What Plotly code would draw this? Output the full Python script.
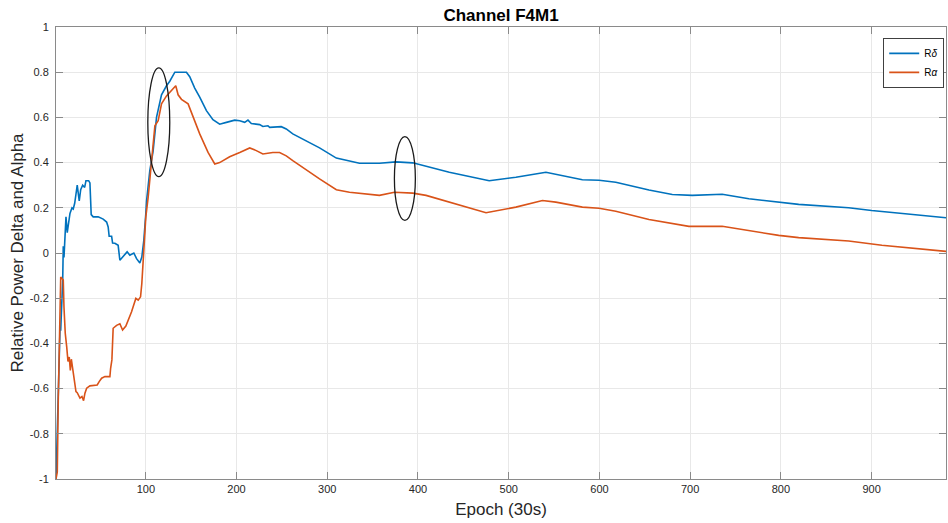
import plotly.graph_objects as go

# ---- data ----
delta_epoch = [1, 3.5, 5.4, 6.2, 8.4, 9, 9.8, 12, 13.4, 16.4, 18.6, 20, 21.6, 23, 24.4, 26.6, 28.2,
               30.4, 32.6, 34, 37, 38.4, 39.8, 42, 47.5, 53, 56.8, 58.5, 59.6, 62.3, 63.4, 65.9,
               69.5, 71.4, 75, 79.4, 82.4, 86.8, 89.8, 93.4, 95.6, 97.8, 100, 100.8, 104.4, 108,
               111.8, 117.3, 122.8, 126.4, 132, 137.4, 141, 144.8, 148.4, 153.9, 159.4, 166.8,
               174, 181.4, 188.8, 198, 203.5, 209, 212.6, 216.3, 225.5, 229, 234.6, 236.5, 249.3,
               254.8, 262, 291.5, 310, 324.5, 335.5, 357.5, 375.9, 394.2, 405.2, 434.5, 478.5,
               507.9, 541, 559.2, 581.2, 599.6, 618, 654.6, 680.3, 702.3, 735.3, 764.7, 794,
               819.6, 874.7, 900, 937, 982]
delta_value = [-1.0, -0.55, -0.34, -0.34, -0.12, 0.03, -0.02, 0.16, 0.09, 0.175, 0.2, 0.195, 0.22,
               0.26, 0.30, 0.23, 0.28, 0.30, 0.29, 0.32, 0.32, 0.31, 0.17, 0.16, 0.16, 0.15, 0.137,
               0.115, 0.074, 0.074, 0.044, 0.043, 0.034, -0.032, -0.015, 0.005, -0.01, 0.0, -0.025,
               -0.044, -0.018, 0.056, 0.175, 0.23, 0.365, 0.45, 0.60, 0.70, 0.74, 0.76, 0.80, 0.80,
               0.80, 0.80, 0.78, 0.73, 0.69, 0.63, 0.59, 0.57, 0.578, 0.588, 0.585, 0.578, 0.588,
               0.573, 0.568, 0.56, 0.563, 0.556, 0.559, 0.549, 0.527, 0.465, 0.42, 0.406, 0.397,
               0.397, 0.403, 0.399, 0.387, 0.357, 0.32, 0.335, 0.357, 0.343, 0.324, 0.322, 0.313,
               0.279, 0.259, 0.255, 0.26, 0.24, 0.225, 0.215, 0.2, 0.188, 0.174, 0.156]

alpha_epoch = [1, 2.4, 3.5, 4.6, 6.2, 7.6, 9, 9.8, 11.2, 12.8, 14.2, 15.6, 16.8, 17.9, 19, 20, 21.6,
               23, 24.4, 26, 27.4, 29.6, 31.4, 32.9, 34.8, 38.4, 42, 46.4, 48.6, 51.3, 54.9, 57.9,
               60.4, 61.2, 62.6, 64, 67.8, 71.4, 74.4, 78, 80.6, 84.3, 87.2, 89, 91.6, 94.2, 95.6,
               97, 100, 102.6, 106.3, 110, 113.6, 117.3, 122.8, 128.3, 133, 135.6, 139.3, 146.6,
               150.3, 159.4, 168.6, 176, 181.4, 192.4, 203.5, 214.5, 221.8, 229, 240, 247.5, 254.8,
               262, 291.5, 310, 324.5, 357.5, 374, 394.2, 408.9, 475, 507.9, 537.2, 551.9, 581.2,
               599.6, 618, 654.6, 698.6, 735.3, 764.7, 797.6, 819.6, 874.7, 911.3, 982]
alpha_value = [-1.0, -0.97, -0.65, -0.385, -0.106, -0.113, -0.12, -0.24, -0.355, -0.415, -0.48,
               -0.46, -0.52, -0.47, -0.5, -0.55, -0.576, -0.613, -0.618, -0.635, -0.642, -0.635,
               -0.653, -0.62, -0.598, -0.588, -0.587, -0.584, -0.569, -0.554, -0.547, -0.547,
               -0.547, -0.51, -0.473, -0.333, -0.32, -0.313, -0.341, -0.323, -0.3, -0.26, -0.223,
               -0.201, -0.209, -0.194, -0.135, -0.032, 0.16, 0.247, 0.41, 0.563, 0.585, 0.66, 0.695,
               0.72, 0.74, 0.70, 0.68, 0.66, 0.62, 0.527, 0.445, 0.394, 0.40, 0.426, 0.445, 0.465,
               0.453, 0.438, 0.445, 0.445, 0.43, 0.409, 0.328, 0.28, 0.269, 0.255, 0.269, 0.265,
               0.255, 0.178, 0.203, 0.232, 0.225, 0.203, 0.198, 0.185, 0.148, 0.118, 0.118, 0.1,
               0.078, 0.068, 0.053, 0.034, 0.007]

series_names = ["R<i>δ</i>", "R<i>α</i>"]
x_ticks = [100, 200, 300, 400, 500, 600, 700, 800, 900]
y_ticks = [-1, -0.8, -0.6, -0.4, -0.2, 0, 0.2, 0.4, 0.6, 0.8, 1]
y_tick_labels = ["-1", "-0.8", "-0.6", "-0.4", "-0.2", "0", "0.2", "0.4", "0.6", "0.8", "1"]
# highlight ellipses: (x0, x1, y0, y1) in data units
ellipses = [(102.2, 126.4, 0.338, 0.819), (374.0, 397.1, 0.144, 0.515)]

FONT = "Liberation Sans, Arial, Helvetica, sans-serif"
AX = "#8a8a8a"

fig = go.Figure()
fig.add_trace(go.Scatter(x=delta_epoch, y=delta_value, mode="lines", name=series_names[0],
                         line=dict(color="#0072BD", width=1.6)))
fig.add_trace(go.Scatter(x=alpha_epoch, y=alpha_value, mode="lines", name=series_names[1],
                         line=dict(color="#D95319", width=1.6)))

for (x0, x1, y0, y1) in ellipses:
    fig.add_shape(type="circle", xref="x", yref="y", x0=x0, x1=x1, y0=y0, y1=y1,
                  line=dict(color="#1a1a1a", width=1.3))

fig.update_layout(
    width=948, height=523,
    margin=dict(l=56, r=2, t=27, b=44),
    paper_bgcolor="white", plot_bgcolor="white",
    font=dict(family=FONT, color="#262626", size=11),
    title=dict(text="<b>Channel F4M1</b>", x=0.5, xref="paper", xanchor="center",
               y=0.972, yanchor="middle", font=dict(size=17, color="#000000", family=FONT)),
    showlegend=True,
    legend=dict(x=0.998, xanchor="right", y=0.976, yanchor="top", bgcolor="white",
                bordercolor="#404040", borderwidth=1, font=dict(size=10, color="#000000"),
                itemwidth=30, tracegroupgap=0),
)
fig.update_xaxes(range=[1, 982], tickvals=x_ticks, ticks="inside", ticklen=7, tickcolor=AX,
                 showline=True, linecolor=AX, linewidth=1, mirror="ticks",
                 showgrid=True, gridcolor="#e8e8e8", gridwidth=1, zeroline=False,
                 tickfont=dict(size=11, color="#262626"),
                 title=dict(text="Epoch (30s)", font=dict(size=17, color="#262626"), standoff=8))
fig.update_yaxes(range=[-1, 1], tickvals=y_ticks, ticktext=y_tick_labels, ticks="inside",
                 ticklen=7, tickcolor=AX, showline=True, linecolor=AX, linewidth=1,
                 mirror="ticks", showgrid=True, gridcolor="#e8e8e8", gridwidth=1, zeroline=False,
                 tickfont=dict(size=11, color="#262626"), ticklabelstandoff=4,
                 title=dict(text="Relative Power Delta and Alpha",
                            font=dict(size=17, color="#262626"), standoff=1))

fig.write_html("out.html", config={"displayModeBar": False},
               post_script="document.body.style.margin='0';document.body.style.padding='0';")
